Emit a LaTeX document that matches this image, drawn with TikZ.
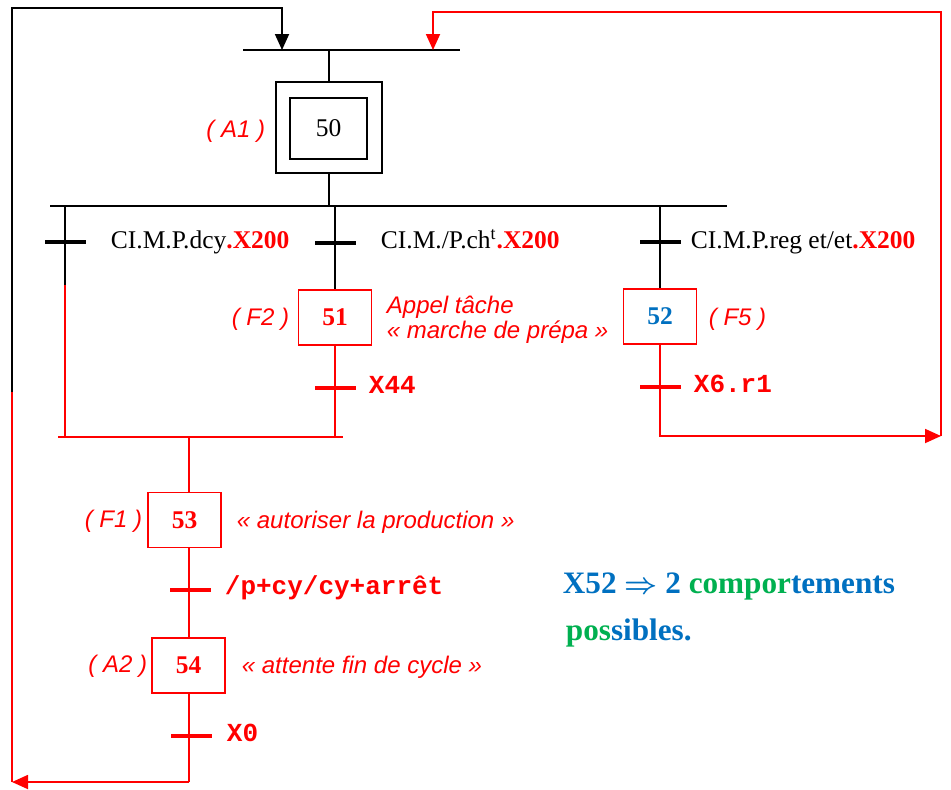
\documentclass[tikz,border=0pt]{standalone}
\usepackage{fontspec}
\setmainfont{Liberation Serif}
\newfontfamily\arialf{Liberation Sans}
\newfontfamily\courierf{Liberation Mono}
\usepackage{xcolor}
\usetikzlibrary{arrows.meta}
\definecolor{rouge}{RGB}{255,0,0}
\definecolor{bleu}{RGB}{0,112,192}
\definecolor{vert}{RGB}{0,176,80}
\tikzset{
etape/.style={draw=rouge,text=rouge,minimum width=36.5pt,minimum height=27.5pt,inner sep=0pt,font=\bfseries\fontsize{12.75}{15}\selectfont},
recept/.style={fill,minimum width=20.5pt,minimum height=2.25pt,inner sep=0pt},
cond/.style={anchor=base west,inner sep=0pt,font=\fontsize{12.75}{15}\selectfont},
repere/.style={inner sep=0pt,text=rouge,font=\arialf\itshape\fontsize{12}{14}\selectfont},
condr/.style={anchor=base west,inner sep=0pt,text=rouge,font=\courierf\bfseries\fontsize{13}{15}\selectfont},
remarque/.style={anchor=base west,inner sep=0pt,text=bleu,font=\bfseries\fontsize{15.6}{19}\selectfont}
}
\begin{document}
\begin{tikzpicture}[x=0.5pt,y=-0.5pt,line width=0.9pt,>={Triangle[width=7pt,length=8pt]}]
\useasboundingbox (0,0) rectangle (951,789);
%% etape 50 et barre de reprise
\draw (243,50)--(460,50);
\coordinate (s0) at (329,50);
\node[draw,minimum width=53pt,minimum height=45.5pt] (e50) at (329,127.5) {};
\node[draw,minimum width=38.5pt,minimum height=30.5pt,inner sep=0pt,font=\fontsize{12.75}{15}\selectfont] (e50i) at (328.5,128.5) {50};
\node[repere,anchor=base east] (a1) at (266,137) {( A1 )};
\draw (s0)--(e50);
%% divergence en OU
\draw (50,206)--(727,206);
\coordinate (d0) at (331,206);
\draw (e50)--(e50.south|-d0);
\coordinate (d1) at (65,206);
\coordinate (d2) at (335,206);
\coordinate (d3) at (660,206);
\node[recept] (t1) at (65,242) {};
\node[recept] (t2) at (335,243) {};
\node[recept] (t3) at (660,242) {};
\node[cond] (c1) at (110,248) {CI.M.P.dcy{\bfseries\color{rouge}.X200}};
\node[cond] (c2) at (380,248) {CI.M./P.ch\textsuperscript{t}{\bfseries\color{rouge}.X200}};
\node[cond] (c3) at (690,248) {CI.M.P.reg et/et{\bfseries\color{rouge}.X200}};
%% branche 1
\coordinate (k1) at (65,285);
\coordinate (j1) at (65,437);
\draw (d1)--(k1);
\draw[rouge] (k1)--(j1);
%% branche 2
\node[etape] (e51) at (335,317.5) {51};
\node[repere,anchor=base east] (f2) at (290,325) {( F2 )};
\node[repere,anchor=base west] (act51a) at (386,313) {Appel tâche};
\node[repere,anchor=base west] (act51b) at (386,338) {« marche de prépa »};
\node[recept,rouge] (t51) at (335,388) {};
\node[condr] (x44) at (368,393) {X44};
\coordinate (j2) at (335,437);
\draw (d2)--(e51);
\draw[rouge] (e51)--(j2);
%% branche 3
\node[etape,text=bleu] (e52) at (660,316.5) {52};
\node[repere,anchor=base west] (f5) at (708,325) {( F5 )};
\node[recept,rouge] (t52) at (660,387) {};
\node[condr] (x6) at (693,392) {X6.r1};
\coordinate (r2) at (941,436);
\coordinate (r3) at (433,12);
\coordinate (r4) at (433,50);
\draw (d3)--(e52);
\draw[rouge,->] (e52)|-(r2);
\draw[rouge,->] (r2)|-(r3)--(r4);
%% convergence en OU
\draw[rouge] (58,437)--(343,437);
\coordinate (j0) at (189,437);
\node[etape] (e53) at (184.5,520) {53};
\node[repere,anchor=base east] (f1) at (143,527) {( F1 )};
\node[repere,anchor=base west] (act53) at (236,528) {« autoriser la production »};
\node[recept,rouge] (t53) at (190,590) {};
\node[condr] (pcy) at (224,594) {/p+cy/cy+arrêt};
\node[etape] (e54) at (188.5,665.5) {54};
\node[repere,anchor=base east] (a2) at (148,672) {( A2 )};
\node[repere,anchor=base west] (act54) at (241,673) {« attente fin de cycle »};
\node[recept,rouge] (t54) at (191,736) {};
\node[condr] (x0) at (226,741) {X0};
\draw[rouge] (j0)--(j0|-e53.north);
\draw[rouge] (j0|-e53.south)--(j0|-e54.north);
%% retour vers l'etape 50
\coordinate (b1) at (189,782);
\coordinate (b2) at (12,782);
\coordinate (b3) at (12,362);
\coordinate (n1) at (12,392);
\coordinate (n3) at (282,8);
\coordinate (n4) at (282,50);
\draw[rouge] (j0|-e54.south)--(b1);
\draw[rouge,->] (b1)--(b2);
\draw[rouge] (b2)--(b3);
\draw[->] (n1)|-(n3)--(n4);
%%
\node[remarque] (rq1) at (562,593) {X52 {\boldmath$\Rightarrow$} 2 \textcolor{vert}{compor}tements};
\node[remarque] (rq2) at (565,640) {\textcolor{vert}{pos}sibles.};
\end{tikzpicture}
\end{document}
